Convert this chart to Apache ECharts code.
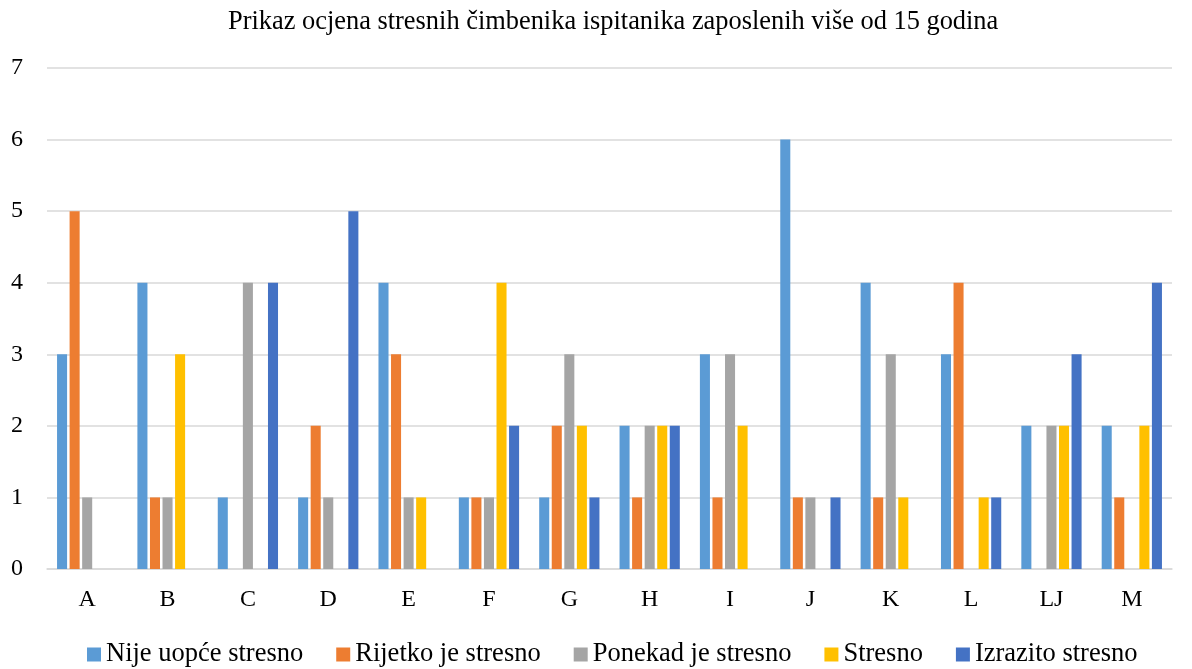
<!DOCTYPE html>
<html>
<head>
<meta charset="utf-8">
<script src="https://cdn.jsdelivr.net/npm/echarts@6/dist/echarts.min.js"></script>
<style>
html,body{margin:0;padding:0;background:#fff;}
#chart{width:1192px;height:669px;}
</style>
</head>
<body>
<div id="chart"></div>
<script>
const categories = ['A','B','C','D','E','F','G','H','I','J','K','L','LJ','M'];
const seriesNames = ['Nije uopće stresno','Rijetko je stresno','Ponekad je stresno','Stresno','Izrazito stresno'];
const nijeUopce   = [3,4,1,1,4,1,1,2,3,6,4,3,2,2];
const rijetko     = [5,1,0,2,3,1,2,1,1,1,1,4,0,1];
const ponekad     = [1,1,4,1,1,1,3,2,3,1,3,0,2,0];
const stresno     = [0,3,0,0,1,4,2,2,2,0,1,1,2,2];
const izrazito    = [0,0,4,5,0,2,1,2,0,1,0,1,3,4];
const yTicks = [0,1,2,3,4,5,6,7];
const colors = ['#5B9BD5','#ED7D31','#A5A5A5','#FFC000','#4472C4'];
const titleText = 'Prikaz ocjena stresnih čimbenika ispitanika zaposlenih više od 15 godina';

const allData = [nijeUopce, rijetko, ponekad, stresno, izrazito];
const font = '"Liberation Serif", "Times New Roman", serif';

const chart = echarts.init(document.getElementById('chart'));
chart.setOption({
  animation: false,
  backgroundColor: '#fff',
  color: colors,
  title: {
    text: titleText,
    left: 223,
    top: 4,
    textStyle: {fontFamily: font, fontSize: 26.4, fontWeight: 'normal', color: '#000'}
  },
  legend: {
    top: 641,
    left: 87,
    padding: 0,
    itemWidth: 14,
    itemHeight: 14,
    itemGap: 33,
    icon: 'rect',
    textStyle: {fontFamily: font, fontSize: 26.5, color: '#000'},
    data: seriesNames
  },
  grid: {left: 47, right: 20, top: 68, bottom: 100, containLabel: false},
  xAxis: {
    type: 'category',
    data: categories,
    axisTick: {show: false},
    axisLine: {lineStyle: {color: '#d9d9d9', width: 1.5}},
    axisLabel: {fontFamily: font, fontSize: 24, color: '#000', margin: 19}
  },
  yAxis: {
    type: 'value',
    min: yTicks[0],
    max: yTicks[yTicks.length-1],
    interval: 1,
    axisLine: {show: false},
    axisTick: {show: false},
    splitLine: {lineStyle: {color: '#d9d9d9', width: 1.5}},
    axisLabel: {fontFamily: font, fontSize: 24, color: '#000', margin: 30, align: 'center'}
  },
  series: seriesNames.map((n, i) => ({
    name: n,
    type: 'bar',
    data: allData[i],
    barGap: '25%',
    barCategoryGap: '25%',
    itemStyle: {color: colors[i]}
  }))
});
</script>
</body>
</html>
